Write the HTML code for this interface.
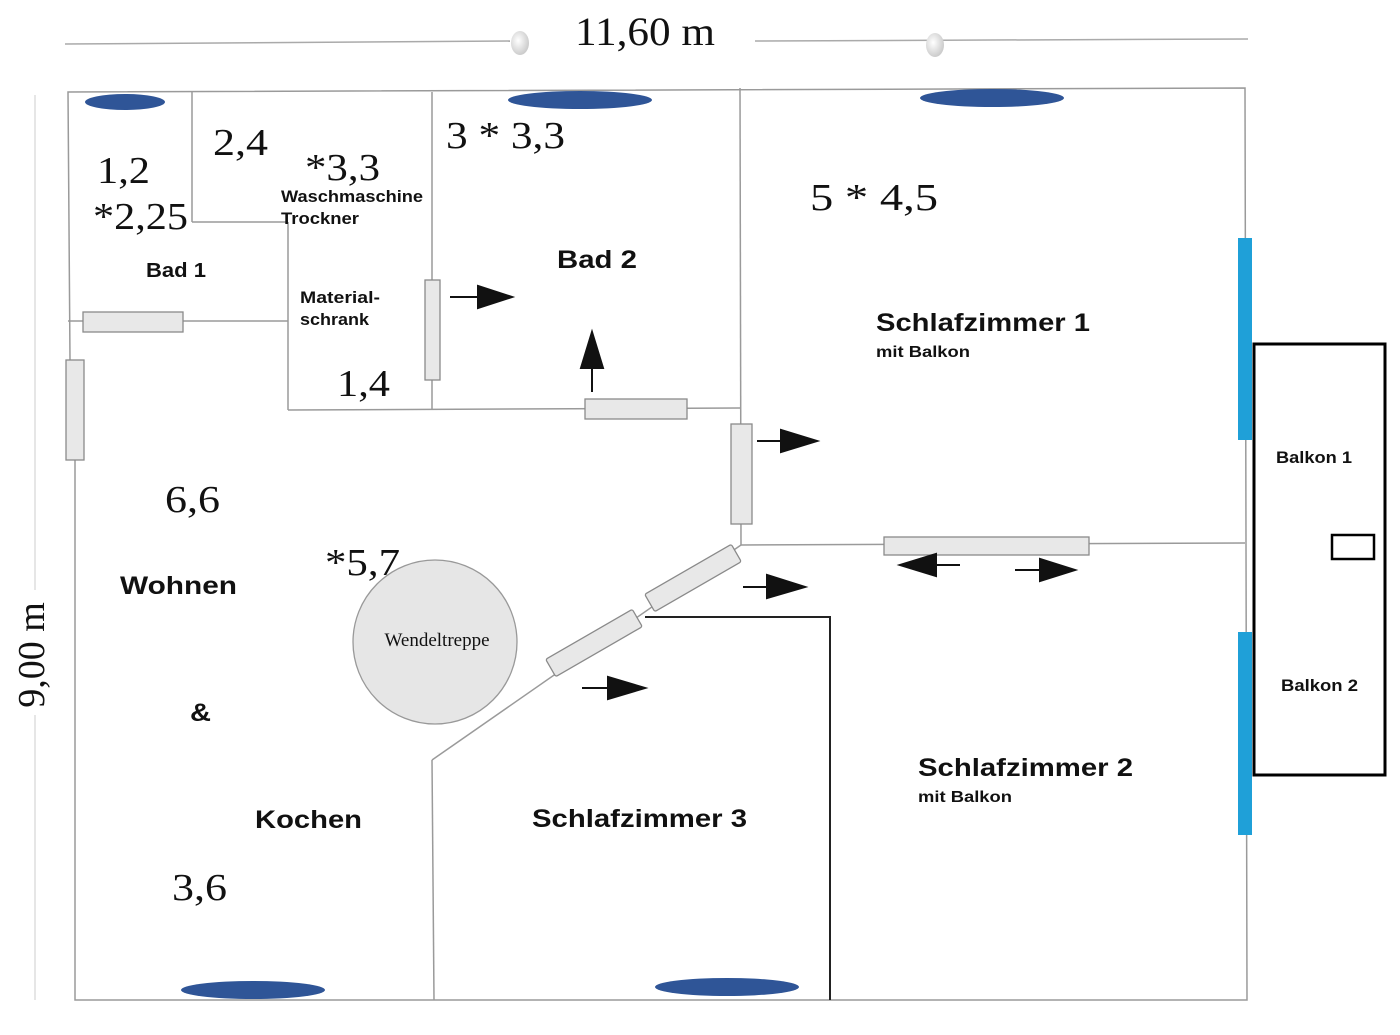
<!DOCTYPE html>
<html><head><meta charset="utf-8"><style>
html,body{margin:0;padding:0;background:#fff;width:1400px;height:1035px;overflow:hidden}
svg{display:block}
.s{font-family:"Liberation Serif",serif;fill:#111}
.b{font-family:"Liberation Sans",sans-serif;font-weight:bold;fill:#111}
.w{stroke:#9a9a9a;stroke-width:1.5;fill:none}
.d{fill:#e8e8e8;stroke:#8a8a8a;stroke-width:1.3}
</style></head><body>
<svg width="1400" height="1035" viewBox="0 0 1400 1035" xmlns="http://www.w3.org/2000/svg">
<defs>
<radialGradient id="g" cx="0.4" cy="0.4" r="0.6"><stop offset="0" stop-color="#fff"/><stop offset="1" stop-color="#ccc"/></radialGradient>
</defs>
<line x1="65" y1="44" x2="510" y2="41" stroke="#aaa" stroke-width="1.5"/>
<line x1="755" y1="41" x2="1248" y2="39" stroke="#aaa" stroke-width="1.5"/>
<ellipse cx="520" cy="43" rx="9" ry="12" fill="url(#g)"/>
<ellipse cx="935" cy="45" rx="9" ry="12" fill="url(#g)"/>
<text x="575" y="45" class="s" font-size="40" textLength="140" lengthAdjust="spacingAndGlyphs">11,60 m</text>
<line x1="35" y1="95" x2="35" y2="590" stroke="#ccc" stroke-width="1"/>
<line x1="35" y1="715" x2="35" y2="1000" stroke="#ccc" stroke-width="1"/>
<text transform="translate(44,655) rotate(-90)" class="s" font-size="38" text-anchor="middle">9,00 m</text>
<polyline class="w" points="70,360 68,92 1245,88 1247,1000 75,1000 75,460"/>
<line class="w" x1="192" y1="92" x2="192" y2="222"/>
<line class="w" x1="192" y1="222" x2="288" y2="222"/>
<line class="w" x1="288" y1="222" x2="288" y2="410"/>
<line class="w" x1="288" y1="410" x2="740" y2="408"/>
<line class="w" x1="432" y1="92" x2="432" y2="410"/>
<line class="w" x1="740" y1="88" x2="741" y2="545"/>
<line class="w" x1="68" y1="321" x2="288" y2="321"/>
<line class="w" x1="741" y1="545" x2="1245" y2="543"/>
<line class="w" x1="741" y1="545" x2="432" y2="760"/>
<line class="w" x1="432" y1="760" x2="434" y2="1000"/>
<polyline points="645,617 830,617 830,1000" stroke="#222" stroke-width="2" fill="none"/>
<g fill="#2f5597">
<ellipse cx="125" cy="102" rx="40" ry="8"/>
<ellipse cx="580" cy="100" rx="72" ry="9"/>
<ellipse cx="992" cy="98" rx="72" ry="9"/>
<ellipse cx="253" cy="990" rx="72" ry="9"/>
<ellipse cx="727" cy="987" rx="72" ry="9"/>
</g>
<rect x="1238" y="238" width="14" height="202" fill="#1fa0d8"/>
<rect x="1238" y="632" width="14" height="203" fill="#1fa0d8"/>
<rect x="1254" y="344" width="131" height="431" fill="none" stroke="#000" stroke-width="3"/>
<rect x="1332" y="535" width="42" height="24" fill="none" stroke="#000" stroke-width="2.5"/>
<rect class="d" x="83" y="312" width="100" height="20"/>
<rect class="d" x="66" y="360" width="18" height="100"/>
<rect class="d" x="425" y="280" width="15" height="100"/>
<rect class="d" x="585" y="399" width="102" height="20"/>
<rect class="d" x="731" y="424" width="21" height="100"/>
<rect class="d" x="884" y="537" width="205" height="18"/>
<rect class="d" x="-50" y="-10" width="100" height="20" rx="2" transform="translate(693,578) rotate(-30)"/>
<rect class="d" x="-50" y="-10" width="100" height="20" rx="2" transform="translate(594,643) rotate(-30)"/>
<circle cx="435" cy="642" r="82" fill="#e6e6e6" stroke="#999" stroke-width="1.3"/>
<text x="437" y="646" class="s" font-size="19" text-anchor="middle" fill="#333">Wendeltreppe</text>
<g stroke="#111" stroke-width="2" fill="#111">
<line x1="450" y1="297" x2="478" y2="297"/><polygon points="478,286 512,297 478,308"/>
<line x1="757" y1="441" x2="783" y2="441"/><polygon points="781,430 817,441 781,452"/>
<line x1="743" y1="587" x2="768" y2="587"/><polygon points="767,575 805,587 767,598"/>
<line x1="582" y1="688" x2="608" y2="688"/><polygon points="608,677 645,688 608,699"/>
<line x1="592" y1="392" x2="592" y2="366"/><polygon points="581,368 592,332 603,368"/>
<line x1="960" y1="565" x2="935" y2="565"/><polygon points="936,554 900,565 936,576"/>
<line x1="1015" y1="570" x2="1040" y2="570"/><polygon points="1040,559 1075,570 1040,581"/>
</g>
<g lengthAdjust="spacingAndGlyphs">
<text x="97" y="183" class="s" font-size="38" textLength="53" lengthAdjust="spacingAndGlyphs">1,2</text>
<text x="93" y="229" class="s" font-size="38" textLength="95" lengthAdjust="spacingAndGlyphs">*2,25</text>
<text x="213" y="155" class="s" font-size="38" textLength="55" lengthAdjust="spacingAndGlyphs">2,4</text>
<text x="305" y="180" class="s" font-size="38" textLength="75" lengthAdjust="spacingAndGlyphs">*3,3</text>
<text x="281" y="202" class="b" font-size="17" textLength="142" lengthAdjust="spacingAndGlyphs">Waschmaschine</text>
<text x="281" y="224" class="b" font-size="17" textLength="78" lengthAdjust="spacingAndGlyphs">Trockner</text>
<text x="146" y="277" class="b" font-size="20" textLength="60" lengthAdjust="spacingAndGlyphs">Bad 1</text>
<text x="300" y="303" class="b" font-size="17" textLength="80" lengthAdjust="spacingAndGlyphs">Material-</text>
<text x="300" y="325" class="b" font-size="17" textLength="69" lengthAdjust="spacingAndGlyphs">schrank</text>
<text x="337" y="396" class="s" font-size="38" textLength="53" lengthAdjust="spacingAndGlyphs">1,4</text>
<text x="446" y="148" class="s" font-size="38" textLength="119" lengthAdjust="spacingAndGlyphs">3 * 3,3</text>
<text x="557" y="268" class="b" font-size="25" textLength="80" lengthAdjust="spacingAndGlyphs">Bad 2</text>
<text x="810" y="210" class="s" font-size="38" textLength="128" lengthAdjust="spacingAndGlyphs">5  * 4,5</text>
<text x="876" y="331" class="b" font-size="25" textLength="214" lengthAdjust="spacingAndGlyphs">Schlafzimmer 1</text>
<text x="876" y="357" class="b" font-size="16" textLength="94" lengthAdjust="spacingAndGlyphs">mit Balkon</text>
<text x="1276" y="463" class="b" font-size="17" textLength="76" lengthAdjust="spacingAndGlyphs">Balkon 1</text>
<text x="1281" y="691" class="b" font-size="17" textLength="77" lengthAdjust="spacingAndGlyphs">Balkon 2</text>
<text x="165" y="512" class="s" font-size="38" textLength="55" lengthAdjust="spacingAndGlyphs">6,6</text>
<text x="325" y="575" class="s" font-size="38" textLength="75" lengthAdjust="spacingAndGlyphs">*5,7</text>
<text x="120" y="594" class="b" font-size="25" textLength="117" lengthAdjust="spacingAndGlyphs">Wohnen</text>
<text x="190" y="721" class="b" font-size="25" textLength="21" lengthAdjust="spacingAndGlyphs">&amp;</text>
<text x="255" y="828" class="b" font-size="25" textLength="107" lengthAdjust="spacingAndGlyphs">Kochen</text>
<text x="172" y="900" class="s" font-size="38" textLength="55" lengthAdjust="spacingAndGlyphs">3,6</text>
<text x="532" y="827" class="b" font-size="25" textLength="215" lengthAdjust="spacingAndGlyphs">Schlafzimmer 3</text>
<text x="918" y="776" class="b" font-size="25" textLength="215" lengthAdjust="spacingAndGlyphs">Schlafzimmer 2</text>
<text x="918" y="802" class="b" font-size="16" textLength="94" lengthAdjust="spacingAndGlyphs">mit Balkon</text>
</g>
</svg>
</body></html>
